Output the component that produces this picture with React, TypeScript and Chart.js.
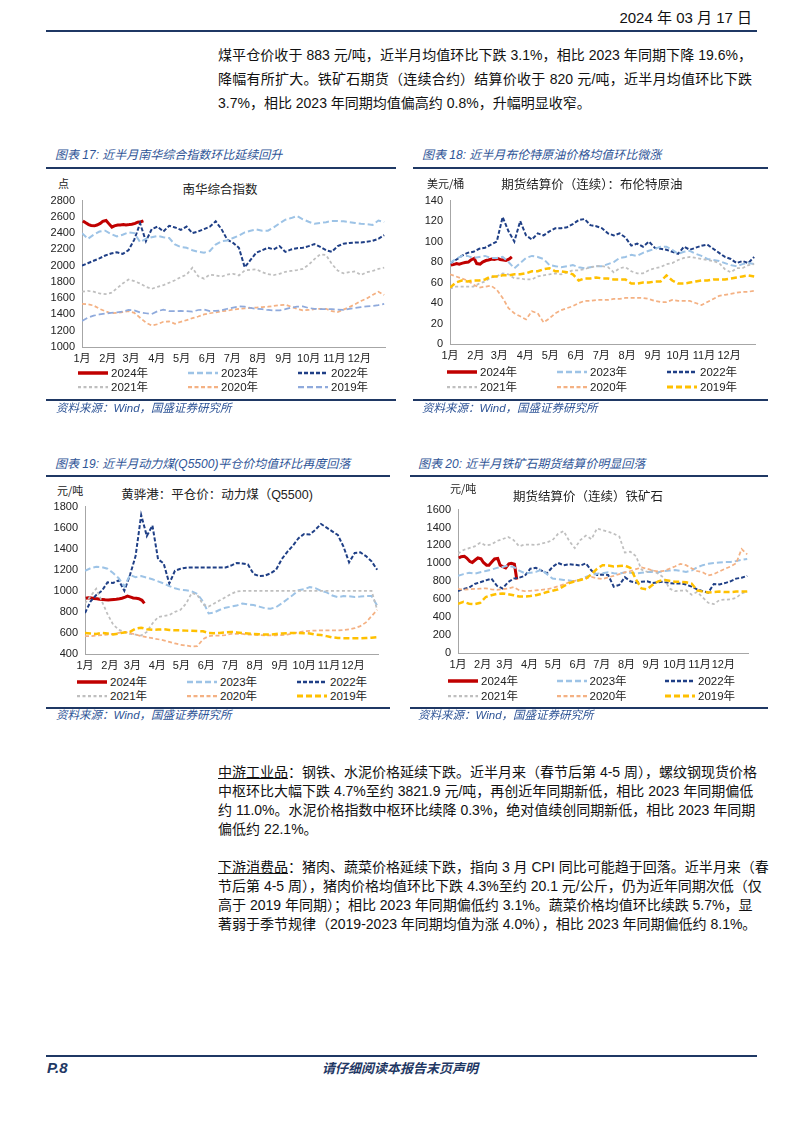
import React, { useEffect, useRef } from 'react';
import { Chart, registerables } from 'chart.js';

Chart.register(...registerables);

// ---------- shared axis data ----------
const MONTH_LABELS = ['1月', '2月', '3月', '4月', '5月', '6月', '7月', '8月', '9月', '10月', '11月', '12月'];
const MONTH_DAYS = [0, 31, 59, 90, 120, 151, 181, 212, 243, 273, 304, 334];
const WEEK_DAYS = [0, 7, 14, 21, 28, 35, 42, 49, 56, 63, 70, 77, 84, 91, 98, 105, 112, 119, 126, 133, 140, 147, 154, 161, 168, 175, 182, 189, 196, 203, 210, 217, 224, 231, 238, 245, 252, 259, 266, 273, 280, 287, 294, 301, 308, 315, 322, 329, 336, 343, 350, 357, 364];
const DAYS_2024 = [1, 4, 8, 11, 15, 18, 22, 25, 29, 32, 36, 39, 43, 46, 50, 53, 57, 60, 64, 67, 71, 74];
const YEAR_LABELS = ['2024年', '2023年', '2022年', '2021年', '2020年', '2019年'];

// ---------- 图表17 南华综合指数 ----------
const NANHUA_2024 = [2550, 2530, 2505, 2495, 2490, 2500, 2520, 2545, 2555, 2520, 2475, 2490, 2500, 2500, 2505, 2500, 2505, 2510, 2520, 2535, 2540, 2550];
const NANHUA_2023 = [2400, 2330, 2380, 2420, 2430, 2390, 2360, 2380, 2410, 2400,
  2290, 2330, 2350, 2365, 2350, 2340, 2260, 2230, 2220, 2190,
  2170, 2160, 2180, 2260, 2300, 2310, 2340, 2370, 2410, 2430,
  2445, 2430, 2430, 2470, 2520, 2565, 2585, 2610, 2570, 2540,
  2515, 2525, 2535, 2550, 2550, 2545, 2535, 2525, 2515, 2510,
  2500, 2555, 2535];
const NANHUA_2022 = [2000, 2030, 2060, 2090, 2125, 2150, 2165, 2145, 2190, 2320,
  2520, 2300, 2450, 2480, 2420, 2490, 2470, 2440, 2480, 2400,
  2420, 2450, 2480, 2545, 2450, 2320, 2280, 2220, 1980, 2070,
  2160, 2190, 2220, 2200, 2240, 2170, 2200, 2215, 2220, 2240,
  2265, 2230, 2190, 2170, 2240, 2270, 2280, 2285, 2285, 2295,
  2305, 2330, 2375];
const NANHUA_2021 = [1680, 1690, 1680, 1660, 1650, 1665, 1720, 1780, 1830, 1810,
  1780, 1740, 1715, 1740, 1760, 1790, 1820, 1860, 1890, 1975,
  1870, 1840, 1890, 1880, 1865, 1890, 1900, 1880, 1940, 1950,
  1955, 1920, 1895, 1885, 1900, 1925, 1935, 1945, 1960, 2010,
  2080, 2140, 2130, 2020, 1940, 1905, 1920, 1930, 1885, 1920,
  1935, 1960, 1975];
const NANHUA_2020 = [1530, 1525, 1510, 1470, 1440, 1415, 1420, 1430, 1440, 1420,
  1360, 1300, 1265, 1280, 1310, 1315, 1285, 1310, 1330, 1355,
  1375, 1400, 1415, 1425, 1440, 1445, 1460, 1470, 1475, 1480,
  1485, 1490, 1495, 1505, 1515, 1520, 1495, 1470, 1450, 1455,
  1465, 1470, 1470, 1440, 1430, 1460, 1490, 1525, 1565, 1595,
  1640, 1680, 1640];
const NANHUA_2019 = [1320, 1360, 1385, 1400, 1410, 1420, 1425, 1435, 1455, 1450,
  1425, 1415, 1405, 1440, 1460, 1440, 1440, 1445, 1440, 1435,
  1455, 1460, 1440, 1445, 1450, 1470, 1485, 1500, 1495, 1480,
  1470, 1465, 1455, 1450, 1450, 1465, 1485, 1495, 1500, 1480,
  1470, 1465, 1465, 1465, 1460, 1455, 1470, 1480, 1490, 1500,
  1505, 1515, 1530];

// ---------- 图表18 布伦特原油 ----------
const BRENT_2024 = [77, 77.5, 78.5, 78, 79, 79.5, 80, 82, 83.5, 78.5, 78, 80, 81.5, 82, 83, 82.5, 83.5, 82.5, 82, 81.5, 83, 85];
const BRENT_2023 = [79, 83, 86, 86, 84, 85, 86, 84, 84, 85,
  80, 74, 79, 84, 86, 85, 83, 77, 76, 75,
  76, 77, 75, 74, 75, 76, 76, 78, 80, 84,
  85, 87, 86, 89, 91, 93, 95, 95, 92, 88,
  90, 91, 88, 86, 83, 82, 81, 79, 77, 76,
  78, 79, 78];
const BRENT_2022 = [79, 82, 86, 89, 90, 93, 94, 97, 100, 124,
  110, 100, 120, 106, 102, 108, 106, 110, 113, 113,
  114, 117, 121, 122, 116, 115, 113, 108, 106, 108,
  104, 96, 98, 95, 100, 94, 93, 92, 90, 88,
  95, 92, 94, 96, 97, 93, 89, 85, 83, 79,
  81, 79, 85];
const BRENT_2021 = [54, 56, 56, 56, 56, 59, 61, 65, 66, 69,
  68, 64, 64, 63, 63, 66, 67, 68, 69, 68,
  70, 72, 72, 73, 75, 76, 76, 75, 70, 74,
  75, 71, 69, 69, 72, 74, 75, 78, 79, 82,
  84, 85, 84, 83, 82, 81, 79, 73, 70, 74,
  74, 77, 78];
const BRENT_2020 = [68, 66, 64, 62, 58, 55, 56, 57, 53, 45,
  35, 30, 27, 24, 32, 30, 21, 25, 30, 33,
  35, 37, 40, 42, 42, 43, 43, 43, 44, 44,
  45, 45, 45, 45, 44, 42, 41, 41, 43, 42,
  42, 42, 40, 38, 41, 44, 47, 48, 49, 50,
  51, 51, 52];
const BRENT_2019 = [55, 60, 62, 61, 62, 62, 63, 66, 66, 67,
  67, 68, 68, 69, 71, 71, 73, 74, 71, 71,
  70, 68, 62, 64, 64, 65, 64, 64, 63, 63,
  63, 59, 59, 60, 60, 61, 61, 67, 62, 59,
  59, 60, 61, 62, 62, 63, 63, 63, 64, 65,
  66, 67, 66];

// ---------- 图表19 动力煤 Q5500 ----------
const COAL_2024 = [930, 935, 932, 928, 925, 920, 918, 915, 912, 915, 918, 920, 925, 930, 940, 950, 940, 932, 930, 925, 910, 880];
const COAL_2023 = [1190, 1215, 1228, 1225, 1210, 1170, 1120, 1040, 1150, 1130,
  1140, 1125, 1110, 1090, 1070, 1045, 1025, 1010, 1005, 995,
  970, 900, 785, 795, 820, 840, 850, 860, 880, 870,
  865, 850, 835, 830, 845, 880, 920, 960, 1005, 1015,
  1035, 1025, 1000, 985, 955, 940, 950, 948, 942, 945,
  950, 950, 860];
const COAL_2022 = [790, 900, 960, 1000, 1080, 1075, 1100, 1000, 1150, 1330,
  1720, 1520, 1620, 1300, 1260, 1070, 1190, 1210, 1220, 1222,
  1222, 1222, 1222, 1222, 1222, 1222, 1240, 1265, 1260, 1250,
  1160, 1140, 1145, 1165, 1200, 1300, 1370, 1430, 1500, 1540,
  1535, 1580, 1635, 1600, 1565, 1530, 1420, 1270, 1360, 1365,
  1330, 1280, 1200];
const COAL_2021 = [880, 950, 1020, 900, 780, 680, 630, 610, 590, 585,
  575, 610, 690, 750, 760, 770, 800, 820, 880, 980,
  960, 870, 850, 880, 910, 940, 970, 995, 1000, 1000,
  1000, 1000, 1000, 1000, 1000, 1000, 1000, 1000, 1000, 1000,
  1000, 1000, 1000, 1000, 1000, 1000, 1000, 1000, 1000, 1000,
  1000, 1000, 820];
const COAL_2020 = [570, 570, 575, 580, 585, 590, 600, 610, 600, 585,
  570, 560, 550, 540, 530, 515, 500, 488, 480, 472,
  475, 540, 570, 575, 575, 580, 590, 592, 590, 585,
  582, 580, 578, 578, 578, 580, 585, 595, 605, 615,
  620, 622, 625, 625, 625, 625, 628, 635, 645, 665,
  700, 760, 820];
const COAL_2019 = [600, 595, 590, 600, 595, 585, 595, 605, 610, 640,
  650, 635, 630, 632, 635, 628, 625, 625, 622, 620,
  618, 615, 600, 598, 600, 605, 610, 605, 600, 595,
  590, 588, 585, 585, 590, 595, 598, 600, 600, 598,
  595, 585, 580, 570, 558, 552, 550, 550, 550, 550,
  552, 555, 560];

// ---------- 图表20 铁矿石 ----------
const ORE_2024 = [1060, 1075, 1080, 1060, 1020, 1010, 1040, 1060, 1050, 1010, 980, 980, 1020, 1050, 1055, 980, 960, 950, 995, 1000, 990, 820];
const ORE_2023 = [860, 880, 895, 885, 900, 915, 930, 950, 960, 975,
  960, 920, 890, 895, 905, 930, 880, 830, 825, 815,
  810, 800, 820, 850, 870, 885, 890, 900, 890, 885,
  900, 895, 885, 895, 905, 905, 900, 915, 920, 925,
  915, 905, 920, 955, 980, 995, 1005, 1010, 1015, 1015,
  1025, 1040, 1050];
const ORE_2022 = [690, 715, 730, 770, 790, 810, 830, 750, 720, 790,
  830, 840, 860, 940, 950, 920, 890, 960, 1005, 980,
  990, 985, 975, 1000, 920, 870, 875, 870, 740, 760,
  845, 800, 785, 795, 800, 780, 790, 795, 780, 775,
  775, 765, 740, 710, 690, 675, 770, 765, 780, 800,
  830, 840, 860];
const ORE_2021 = [1110, 1150, 1170, 1190, 1230, 1200, 1210, 1250, 1270, 1295,
  1260, 1190, 1210, 1210, 1205, 1220, 1235, 1260, 1330, 1360,
  1250, 1170, 1260, 1310, 1270, 1390, 1370, 1355, 1330, 1300,
  1120, 1130, 1080, 930, 905, 920, 885, 840, 720, 690,
  695, 700, 650, 680, 620, 560, 545, 590, 595, 600,
  615, 665, 685];
const ORE_2020 = [715, 705, 710, 715, 718, 722, 710, 705, 712, 720,
  735, 700, 690, 693, 700, 705, 712, 725, 745, 765,
  790, 805, 820, 835, 848, 835, 825, 845, 860, 880,
  900, 915, 935, 955, 940, 920, 910, 915, 940, 965,
  995, 980, 945, 915, 900, 865, 880, 910, 940, 965,
  1000, 1160, 1100];
const ORE_2019 = [550, 570, 550, 545, 560, 625, 645, 660, 665, 655,
  645, 630, 630, 635, 645, 660, 680, 695, 710, 745,
  780, 800, 815, 830, 880, 940, 980, 975, 965, 970,
  975, 950, 820, 720, 710, 760, 800, 815, 805, 795,
  795, 790, 775, 700, 685, 675, 680, 685, 680, 680,
  685, 685, 685];

// ---------- styles ----------
const CJK = '"Noto Sans CJK SC", sans-serif';
const MIX = '"Liberation Sans", "Noto Sans CJK SC", sans-serif';
const BLUE_TEXT = '#2F5597';
const BLUE_LINE = '#1F3864';
const AXIS = '#A6A6A6';

type Style = { color: string; width: number; dash: number[] };
const STYLE_2024: Style = { color: '#C00000', width: 3, dash: [] };
const STYLE_2023: Style = { color: '#9DC3E6', width: 2, dash: [6, 3] };
const STYLE_2022: Style = { color: '#1F3F86', width: 2, dash: [4, 2] };
const STYLE_2021: Style = { color: '#BFBFBF', width: 1.75, dash: [3, 2.5] };
const STYLE_2020: Style = { color: '#F4B183', width: 1.75, dash: [4, 2.5] };
const STYLE_2019_BLUE: Style = { color: '#8FAADC', width: 1.75, dash: [6, 3] };
const STYLE_2019_GOLD: Style = { color: '#FFC000', width: 2.5, dash: [6, 3] };

type Series = { label: string; days: number[]; values: number[]; style: Style };

function yearSeries(v24: number[], v23: number[], v22: number[], v21: number[], v20: number[], v19: number[], s19: Style): Series[] {
  return [
    { label: YEAR_LABELS[0], days: DAYS_2024, values: v24, style: STYLE_2024 },
    { label: YEAR_LABELS[1], days: WEEK_DAYS, values: v23, style: STYLE_2023 },
    { label: YEAR_LABELS[2], days: WEEK_DAYS, values: v22, style: STYLE_2022 },
    { label: YEAR_LABELS[3], days: WEEK_DAYS, values: v21, style: STYLE_2021 },
    { label: YEAR_LABELS[4], days: WEEK_DAYS, values: v20, style: STYLE_2020 },
    { label: YEAR_LABELS[5], days: WEEK_DAYS, values: v19, style: s19 },
  ];
}

type CanvasBox = { left: number; top: number; width: number; height: number; yWidth: number; xHeight: number; padTop: number; padRight: number };

function LineChart({ box, yMin, yMax, yStep, series }: { box: CanvasBox; yMin: number; yMax: number; yStep: number; series: Series[] }) {
  const ref = useRef<HTMLCanvasElement>(null);
  useEffect(() => {
    const drawOrder = [5, 4, 3, 1, 2, 0];
    const tickFont = { family: MIX, size: 11 };
    const chart = new Chart(ref.current as HTMLCanvasElement, {
      type: 'line',
      data: {
        datasets: drawOrder.map((i) => {
          const s = series[i];
          return {
            label: s.label,
            data: s.days.map((d, k) => ({ x: d, y: s.values[k] })),
            borderColor: s.style.color,
            borderWidth: s.style.width,
            borderDash: s.style.dash,
            pointRadius: 0,
            fill: false,
            tension: 0,
            borderCapStyle: 'butt',
          } as any;
        }),
      },
      options: {
        animation: false,
        responsive: false,
        maintainAspectRatio: false,
        layout: { padding: { left: 0, top: box.padTop, right: box.padRight, bottom: 0 } },
        plugins: { legend: { display: false }, tooltip: { enabled: false }, title: { display: false } },
        scales: {
          x: {
            type: 'linear',
            min: 0,
            max: 365,
            grid: { display: false, drawTicks: false },
            border: { display: true, color: AXIS, width: 1 },
            ticks: {
              autoSkip: false,
              maxRotation: 0,
              minRotation: 0,
              padding: 5,
              color: '#222',
              font: tickFont,
              callback: (v: any) => MONTH_LABELS[MONTH_DAYS.indexOf(Number(v))] ?? '',
            },
            afterBuildTicks: (s: any) => {
              s.ticks = MONTH_DAYS.map((d) => ({ value: d }));
            },
            afterFit: (s: any) => {
              s.height = box.xHeight;
            },
          },
          y: {
            min: yMin,
            max: yMax,
            grid: { display: false, drawTicks: false },
            border: { display: true, color: AXIS, width: 1 },
            ticks: { stepSize: yStep, padding: 7, color: '#222', font: tickFont, callback: (v: any) => String(v) },
            afterFit: (s: any) => {
              s.width = box.yWidth;
            },
          },
        },
      } as any,
    });
    return () => chart.destroy();
  }, []);
  return (
    <canvas
      ref={ref}
      width={box.width}
      height={box.height}
      style={{ position: 'absolute', left: box.left, top: box.top, width: box.width, height: box.height }}
    />
  );
}

function Txt({ x, y, children, style }: { x: number; y: number; children: React.ReactNode; style?: React.CSSProperties }) {
  return (
    <div style={{ position: 'absolute', left: x, top: y - 9, height: 18, lineHeight: '18px', whiteSpace: 'nowrap', ...style }}>
      {children}
    </div>
  );
}

function CTxt({ cx, y, children, style }: { cx: number; y: number; children: React.ReactNode; style?: React.CSSProperties }) {
  return (
    <div style={{ position: 'absolute', left: cx - 200, width: 400, textAlign: 'center', top: y - 9, height: 18, lineHeight: '18px', whiteSpace: 'nowrap', ...style }}>
      {children}
    </div>
  );
}

function HLine({ x1, x2, y, w = 2, color = BLUE_LINE }: { x1: number; x2: number; y: number; w?: number; color?: string }) {
  return <div style={{ position: 'absolute', left: x1, top: y - w / 2, width: x2 - x1, height: w, background: color }} />;
}

function Legend({ x, step, y1, y2, series }: { x: number; step: number; y1: number; y2: number; series: Series[] }) {
  return (
    <>
      {series.map((s, i) => {
        const col = i % 3;
        const row = Math.floor(i / 3);
        const left = x + col * step;
        const y = row === 0 ? y1 : y2;
        return (
          <div key={s.label} style={{ position: 'absolute', left, top: y - 8, height: 16, display: 'flex', alignItems: 'center', whiteSpace: 'nowrap' }}>
            <svg width={30} height={8} style={{ display: 'block' }}>
              <line x1={0} y1={4} x2={30} y2={4} stroke={s.style.color} strokeWidth={s.style.width === 3 ? 3.5 : s.style.width + 0.5} strokeDasharray={s.style.dash.length ? s.style.dash.join(' ') : undefined} />
            </svg>
            <span style={{ marginLeft: 3, fontFamily: MIX, fontSize: 11.5, color: '#222', lineHeight: '16px' }}>{s.label}</span>
          </div>
        );
      })}
    </>
  );
}

type PanelProps = {
  x1: number; x2: number; caption: string; captionX: number; captionY: number; topLineY: number; bottomLineY: number; sourceX: number; sourceY: number;
  unit: string; unitX: number; unitY: number; title: string; titleCx: number; titleY: number;
  box: CanvasBox; yMin: number; yMax: number; yStep: number; series: Series[]; legend: { x: number; step: number; y1: number; y2: number };
};

function Panel(p: PanelProps) {
  return (
    <>
      <Txt x={p.captionX} y={p.captionY} style={{ fontFamily: MIX, fontStyle: 'italic', fontSize: 12, color: BLUE_TEXT }}>{p.caption}</Txt>
      <HLine x1={p.x1} x2={p.x2} y={p.topLineY} />
      <Txt x={p.unitX} y={p.unitY} style={{ fontFamily: CJK, fontSize: 11, color: '#222' }}>{p.unit}</Txt>
      <CTxt cx={p.titleCx} y={p.titleY} style={{ fontFamily: MIX, fontSize: 12.5, color: '#222' }}>{p.title}</CTxt>
      <LineChart box={p.box} yMin={p.yMin} yMax={p.yMax} yStep={p.yStep} series={p.series} />
      <Legend {...p.legend} series={p.series} />
      <HLine x1={p.x1} x2={p.x2} y={p.bottomLineY} />
      <Txt x={p.sourceX} y={p.sourceY} style={{ fontFamily: MIX, fontStyle: 'italic', fontSize: 11.5, color: BLUE_TEXT }}>资料来源：Wind，国盛证券研究所</Txt>
    </>
  );
}

const TEXT_LEFT = 218;
const TEXT_WIDTH = 534;

function Line({ y, children, justify = true }: { y: number; children: React.ReactNode; justify?: boolean }) {
  return (
    <div
      style={{
        position: 'absolute', left: TEXT_LEFT, width: TEXT_WIDTH, top: y - 10, height: 20, lineHeight: '20px',
        fontFamily: MIX, fontSize: 14, color: '#111', whiteSpace: 'nowrap',
        textAlign: justify ? 'justify' : 'left', textAlignLast: justify ? 'justify' : 'left',
      } as React.CSSProperties}
    >
      {children}
    </div>
  );
}

const U = ({ children }: { children: React.ReactNode }) => <span style={{ textDecoration: 'underline' }}>{children}</span>;

export default function App() {
  const nanhua = yearSeries(NANHUA_2024, NANHUA_2023, NANHUA_2022, NANHUA_2021, NANHUA_2020, NANHUA_2019, STYLE_2019_BLUE);
  const brent = yearSeries(BRENT_2024, BRENT_2023, BRENT_2022, BRENT_2021, BRENT_2020, BRENT_2019, STYLE_2019_GOLD);
  const coal = yearSeries(COAL_2024, COAL_2023, COAL_2022, COAL_2021, COAL_2020, COAL_2019, STYLE_2019_GOLD);
  const ore = yearSeries(ORE_2024, ORE_2023, ORE_2022, ORE_2021, ORE_2020, ORE_2019, STYLE_2019_GOLD);

  const p1Y = 55;
  const p2Y = 772;
  const LH = 19;

  return (
    <div style={{ position: 'absolute', left: 0, top: 0, width: 802, height: 1133, overflow: 'hidden', background: '#fff' }}>
      {/* header */}
      <div style={{ position: 'absolute', left: 452, width: 300, textAlign: 'right', top: 8, height: 20, lineHeight: '20px', fontFamily: MIX, fontSize: 15, color: '#111' }}>
        2024 年 03 月 17 日
      </div>
      <HLine x1={46} x2={757} y={31} />

      {/* paragraph 1 */}
      <Line y={p1Y}>煤平仓价收于 883 元/吨，近半月均值环比下跌 3.1%，相比 2023 年同期下降 19.6%，</Line>
      <Line y={p1Y + 24}>降幅有所扩大。铁矿石期货（连续合约）结算价收于 820 元/吨，近半月均值环比下跌</Line>
      <Line y={p1Y + 48} justify={false}>3.7%，相比 2023 年同期均值偏高约 0.8%，升幅明显收窄。</Line>

      <Panel
        x1={46} x2={396} caption="图表 17: 近半月南华综合指数环比延续回升" captionX={55} captionY={155} topLineY={168} bottomLineY={400} sourceX={56} sourceY={408}
        unit="点" unitX={58} unitY={183} title="南华综合指数" titleCx={220} titleY={190}
        box={{ left: 46, top: 187, width: 350, height: 180, yWidth: 36, xHeight: 20, padTop: 10, padRight: 11 }}
        yMin={1000} yMax={2800} yStep={200} series={nanhua} legend={{ x: 78, step: 110, y1: 373, y2: 387 }}
      />
      <Panel
        x1={413} x2={768} caption="图表 18: 近半月布伦特原油价格均值环比微涨" captionX={422} captionY={155} topLineY={168} bottomLineY={400} sourceX={422} sourceY={408}
        unit="美元/桶" unitX={427} unitY={183} title="期货结算价（连续）：布伦特原油" titleCx={592} titleY={185}
        box={{ left: 413, top: 187, width: 355, height: 177, yWidth: 37, xHeight: 20, padTop: 10, padRight: 13 }}
        yMin={0} yMax={140} yStep={20} series={brent} legend={{ x: 447, step: 110, y1: 372, y2: 387 }}
      />
      <Panel
        x1={46} x2={390} caption="图表 19: 近半月动力煤(Q5500)平仓价均值环比再度回落" captionX={55} captionY={464} topLineY={476} bottomLineY={708} sourceX={56} sourceY={715}
        unit="元/吨" unitX={57} unitY={490} title="黄骅港：平仓价：动力煤（Q5500)" titleCx={217} titleY={495}
        box={{ left: 46, top: 493, width: 344, height: 181, yWidth: 39, xHeight: 20, padTop: 10, padRight: 12 }}
        yMin={400} yMax={1800} yStep={200} series={coal} legend={{ x: 77, step: 110, y1: 682, y2: 696 }}
      />
      <Panel
        x1={410} x2={768} caption="图表 20: 近半月铁矿石期货结算价明显回落" captionX={418} captionY={464} topLineY={476} bottomLineY={708} sourceX={418} sourceY={715}
        unit="元/吨" unitX={450} unitY={488} title="期货结算价（连续）铁矿石" titleCx={588} titleY={497}
        box={{ left: 413, top: 496, width: 355, height: 177, yWidth: 45, xHeight: 20, padTop: 10, padRight: 20 }}
        yMin={0} yMax={1600} yStep={200} series={ore} legend={{ x: 448, step: 108.5, y1: 681, y2: 696 }}
      />

      {/* paragraph 2 */}
      <Line y={p2Y}><U>中游工业品</U>：钢铁、水泥价格延续下跌。近半月来（春节后第 4-5 周），螺纹钢现货价格</Line>
      <Line y={p2Y + LH}>中枢环比大幅下跌 4.7%至约 3821.9 元/吨，再创近年同期新低，相比 2023 年同期偏低</Line>
      <Line y={p2Y + LH * 2}>约 11.0%。水泥价格指数中枢环比续降 0.3%，绝对值续创同期新低，相比 2023 年同期</Line>
      <Line y={p2Y + LH * 3} justify={false}>偏低约 22.1%。</Line>

      {/* paragraph 3 */}
      <Line y={p2Y + LH * 5}><U>下游消费品</U>：猪肉、蔬菜价格延续下跌，指向 3 月 CPI 同比可能趋于回落。近半月来（春</Line>
      <Line y={p2Y + LH * 6}>节后第 4-5 周），猪肉价格均值环比下跌 4.3%至约 20.1 元/公斤，仍为近年同期次低（仅</Line>
      <Line y={p2Y + LH * 7}>高于 2019 年同期）；相比 2023 年同期偏低约 3.1%。蔬菜价格均值环比续跌 5.7%，显</Line>
      <Line y={p2Y + LH * 8}>著弱于季节规律（2019-2023 年同期均值为涨 4.0%），相比 2023 年同期偏低约 8.1%。</Line>

      {/* footer */}
      <HLine x1={46} x2={757} y={1056} />
      <Txt x={47} y={1068} style={{ fontFamily: MIX, fontStyle: 'italic', fontWeight: 700, fontSize: 15, color: BLUE_LINE }}>P.8</Txt>
      <CTxt cx={400} y={1068} style={{ fontFamily: CJK, fontStyle: 'italic', fontWeight: 700, fontSize: 13, color: BLUE_LINE }}>请仔细阅读本报告末页声明</CTxt>
    </div>
  );
}
